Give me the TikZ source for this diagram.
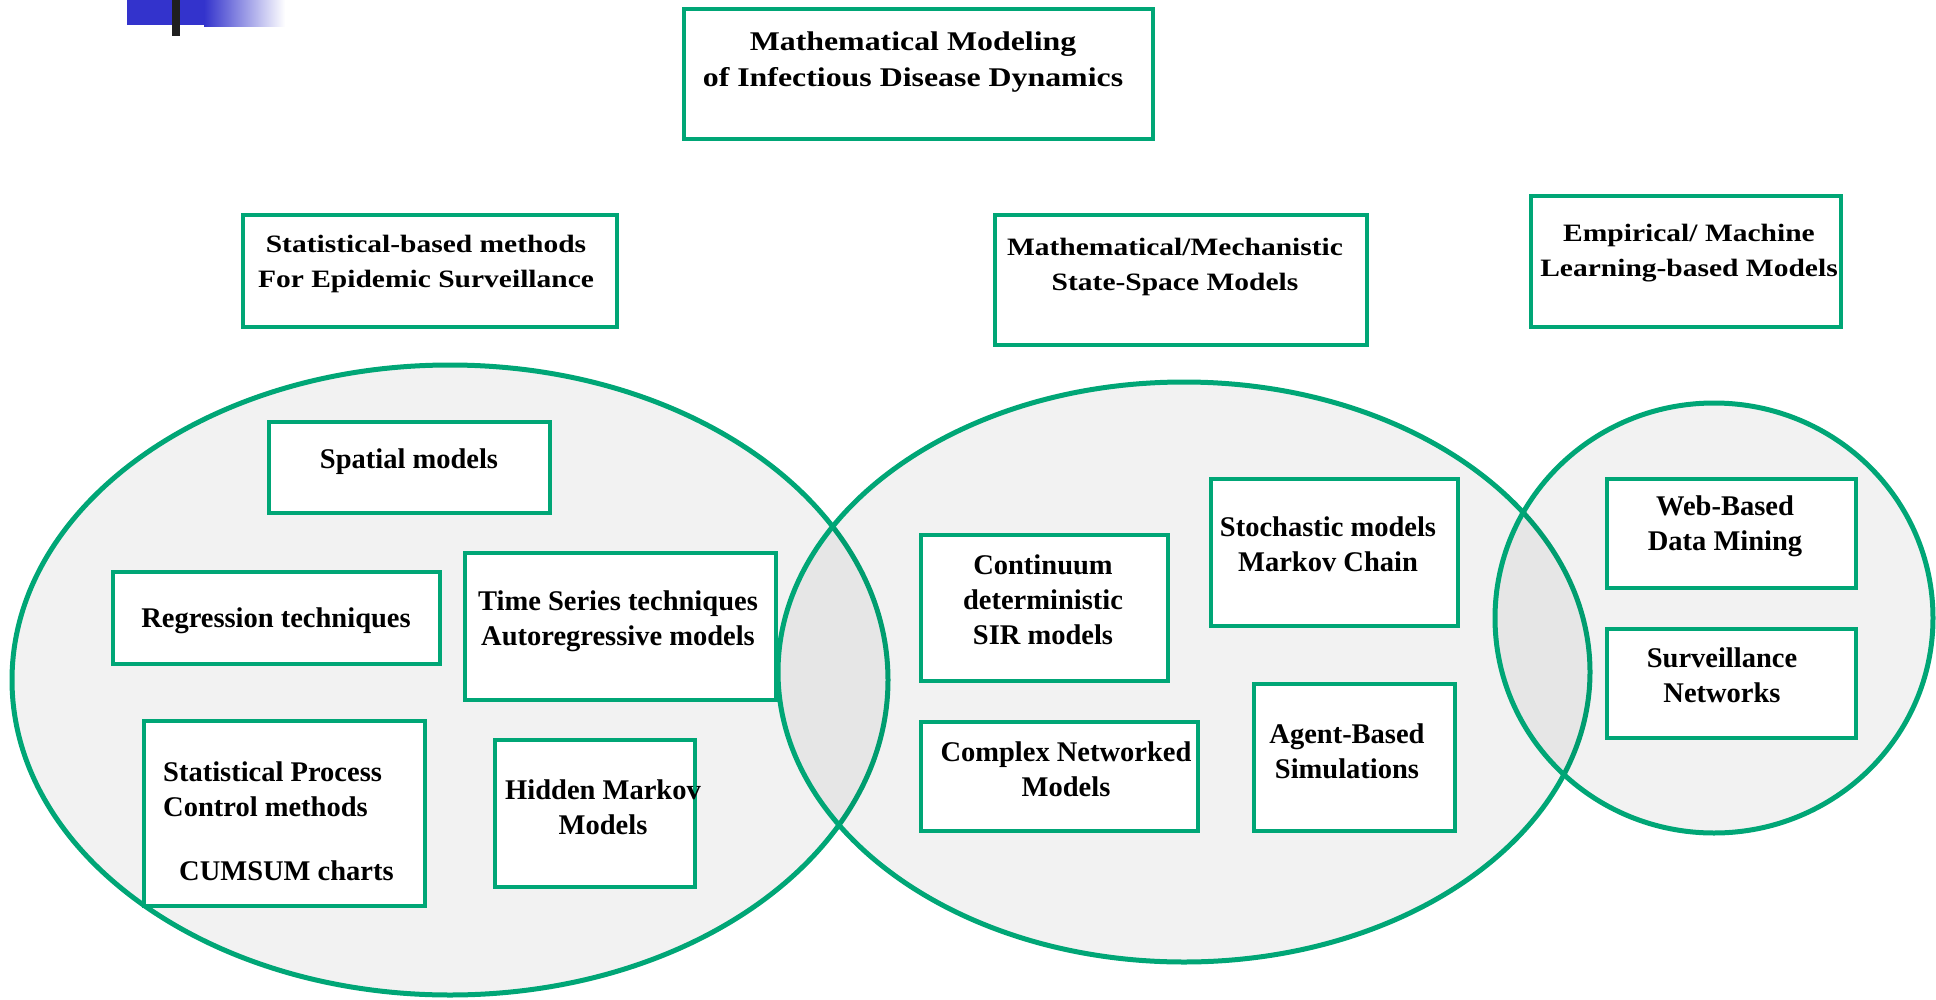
\documentclass[tikz,border=0pt]{standalone}
\usepackage{fontspec}
\setmainfont{Liberation Serif}
\newfontfamily\widefont{Liberation Serif}[FakeStretch=1.18]
\definecolor{vgreen}{RGB}{0,166,118}
\definecolor{barblue}{RGB}{51,51,204}
\begin{document}
\begin{tikzpicture}[x=1pt,y=-1pt,
  box/.style={draw=vgreen, line width=4.5pt, fill=white, inner sep=0pt, rectangle},
  txt/.style={font=\fontsize{28.5pt}{35pt}\selectfont\bfseries, align=center, inner sep=0pt, yshift=-4pt},
  head/.style={font=\widefont\fontsize{25pt}{35pt}\selectfont\bfseries, align=center, inner sep=0pt, yshift=-4pt},
  venn/.style={draw=vgreen, line width=5pt, fill=black, fill opacity=0.05, draw opacity=1}]
\useasboundingbox (0,0) rectangle (1936,999);

% corner bar
\fill[barblue] (127,0) rectangle (205,25);
\shade[left color=barblue, right color=white] (204,0) rectangle (285,26);
\fill[black!88] (172,0) rectangle (180,36);

% the three model families
\draw[venn] (450,680) ellipse [x radius=438, y radius=315];
\draw[venn] (1184,672) ellipse [x radius=406, y radius=290];
\draw[venn] (1714,618) ellipse [x radius=219, y radius=215];

% title and family headers
\node[box, minimum width=469pt, minimum height=130pt] (title) at (918.5,74) {};
\node[head, font=\widefont\fontsize{27pt}{36pt}\selectfont\bfseries] (titleT) at (913,58)
  {Mathematical Modeling\\of Infectious Disease Dynamics};

\node[box, minimum width=374pt, minimum height=112pt] (stat) at (430,271) {};
\node[head] (statT) at (426,259.5) {Statistical-based methods\\For Epidemic Surveillance};

\node[box, minimum width=372pt, minimum height=130pt] (mech) at (1181,280) {};
\node[head] (mechT) at (1175,263) {Mathematical/Mechanistic\\State-Space Models};

\node[box, minimum width=310pt, minimum height=131pt] (emp) at (1686,261.5) {};
\node[head] (empT) at (1689,249.5) {Empirical/ Machine\\Learning-based Models};

% statistical methods
\node[box, minimum width=281pt, minimum height=91pt] (spatial) at (409.5,467.5) {};
\node[txt] (spatialT) at (409,458) {Spatial models};

\node[box, minimum width=327pt, minimum height=92pt] (regr) at (276.5,618) {};
\node[txt] (regrT) at (276,617) {Regression techniques};

\node[box, minimum width=311pt, minimum height=147pt] (ts) at (620.5,626.5) {};
\node[txt] (tsT) at (618,617.5) {Time Series techniques\\Autoregressive models};

\node[box, minimum width=281pt, minimum height=185pt] (spc) at (284.5,813.5) {};
\node[txt, align=left, anchor=west] (spcT) at (163,817.5)
  {Statistical Process\\Control methods\\[29pt]\hspace*{16pt}CUMSUM charts};

\node[box, minimum width=200pt, minimum height=147pt] (hmm) at (595,813.5) {};
\node[txt] (hmmT) at (603,803.5) {Hidden Markov\\Models};

% mechanistic models
\node[box, minimum width=247pt, minimum height=146pt] (cont) at (1044.5,608) {};
\node[txt] (contT) at (1043,596) {Continuum\\deterministic\\SIR models};

\node[box, minimum width=247pt, minimum height=147pt] (stoch) at (1334.5,552.5) {};
\node[txt] (stochT) at (1328,540) {Stochastic models\\Markov Chain};

\node[box, minimum width=277pt, minimum height=109pt] (cnet) at (1059.5,776.5) {};
\node[txt] (cnetT) at (1066,765.5) {Complex Networked\\Models};

\node[box, minimum width=201pt, minimum height=147pt] (abm) at (1354.5,757.5) {};
\node[txt] (abmT) at (1347,747) {Agent-Based\\Simulations};

% machine learning models
\node[box, minimum width=249pt, minimum height=109pt] (web) at (1731.5,533.5) {};
\node[txt] (webT) at (1725,522.5) {Web-Based\\Data Mining};

\node[box, minimum width=249pt, minimum height=109pt] (surv) at (1731.5,683.5) {};
\node[txt] (survT) at (1722,671.5) {Surveillance\\Networks};
\end{tikzpicture}
\end{document}
